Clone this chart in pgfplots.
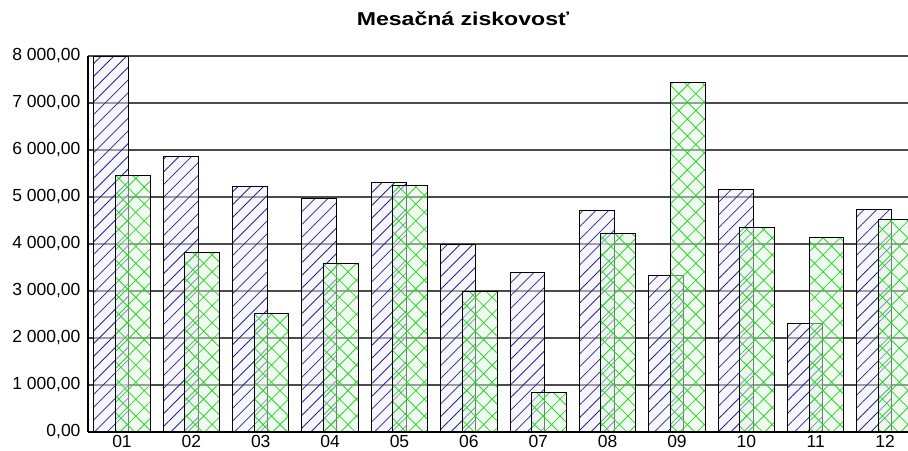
\documentclass[border=0pt]{standalone}
\usepackage{fontspec}
\setmainfont{Liberation Sans}
\newfontfamily\titlefont[FakeStretch=1.24]{Liberation Sans}
\usepackage{pgfplots}
\pgfplotsset{compat=1.18}
\usetikzlibrary{patterns.meta}
\definecolor{hatchblue}{RGB}{40,40,150}
\definecolor{hatchgreen}{RGB}{50,210,50}
\definecolor{gridgray}{RGB}{75,75,75}
\begin{document}
\begin{tikzpicture}
\begin{axis}[
  scale only axis, width=820pt, height=376pt,
  xmin=0.51, xmax=12.33, ymin=0, ymax=8000,
  axis lines*=left,
  axis line style={black, line width=1.3pt},
  ymajorgrids, grid style={gridgray, line width=1.1pt},
  ytick={0,1000,2000,3000,4000,5000,6000,7000,8000},
  yticklabels={{0,00},{1 000,00},{2 000,00},{3 000,00},{4 000,00},{5 000,00},{6 000,00},{7 000,00},{8 000,00}},
  xtick={1,2,3,4,5,6,7,8,9,10,11,12},
  xticklabels={01,02,03,04,05,06,07,08,09,10,11,12},
  major tick length=0pt,
  tick label style={font=\fontsize{17.5}{20}\selectfont},
  yticklabel style={xshift=-4pt},
  ybar, bar width=0.504,
]
\addplot[draw=black, line width=1pt, bar shift=-0.155,
  fill=hatchblue!8, fill opacity=0.5,
  postaction={fill opacity=1, pattern={Lines[angle=45,distance=9pt,line width=0.8pt]}, pattern color=hatchblue}]
  coordinates {(1,8000) (2,5870) (3,5230) (4,4960) (5,5300) (6,3980) (7,3400) (8,4720) (9,3320) (10,5165) (11,2300) (12,4740)};
\addplot[draw=black, line width=1pt, bar shift=0.155,
  fill=hatchgreen!15, fill opacity=0.5,
  postaction={fill opacity=1, pattern={Hatch[angle=45,distance=12pt,line width=0.8pt]}, pattern color=hatchgreen}]
  coordinates {(1,5450) (2,3820) (3,2525) (4,3590) (5,5255) (6,2985) (7,845) (8,4225) (9,7440) (10,4355) (11,4130) (12,4530)};
\end{axis}
\node[anchor=base, inner sep=0pt, font=\titlefont\bfseries\fontsize{18.6}{21}\selectfont] at (375pt,406pt) {Mesačná ziskovosť};
\pgfresetboundingbox
\path (-88pt,-18pt) rectangle (820pt,432pt);
\end{tikzpicture}
\end{document}
